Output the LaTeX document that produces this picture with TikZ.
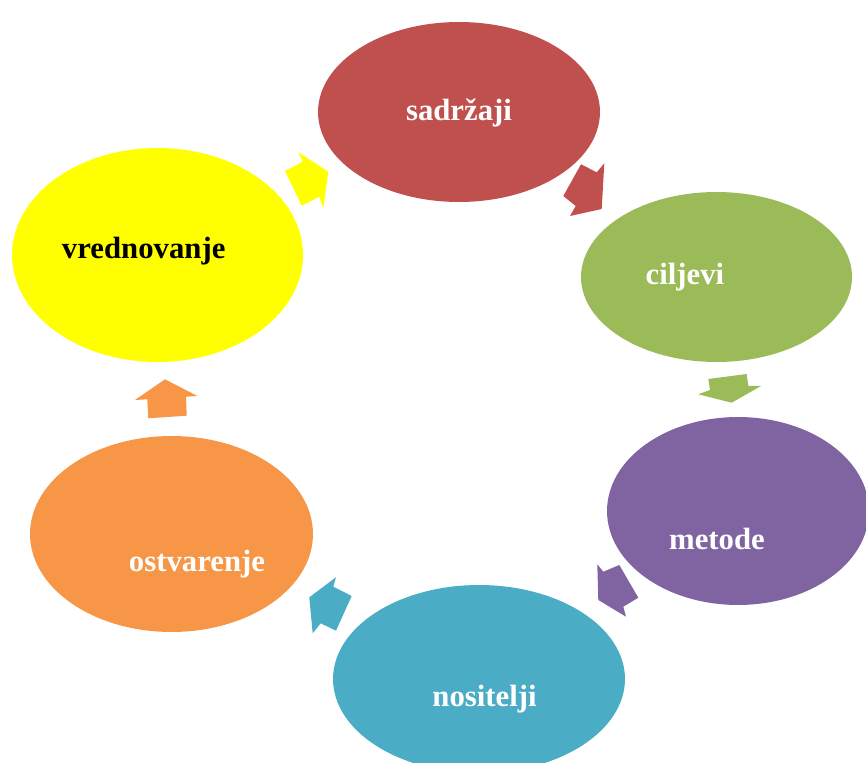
\documentclass[tikz,border=0pt]{standalone}
\usepackage{fontspec}
\setmainfont{Liberation Serif}
\usetikzlibrary{shapes.geometric}
\definecolor{cred}{HTML}{C0504D}
\definecolor{cgreen}{HTML}{9BBB59}
\definecolor{cpurple}{HTML}{8064A2}
\definecolor{cteal}{HTML}{4BACC6}
\definecolor{corange}{HTML}{F79646}
\definecolor{cyellow}{HTML}{FFFF00}
\tikzset{
  blob/.style={ellipse, inner sep=0pt, draw=none},
  lbl/.style={anchor=base, font=\bfseries\fontsize{17.5}{20}\selectfont, text=white, inner sep=0pt},
}
\begin{document}
\begin{tikzpicture}[x=0.02cm, y=-0.02cm]
\useasboundingbox (0,0) rectangle (866,763);
\clip (0,0) rectangle (866,763);
% ellipses
\node[blob, fill=cred, minimum width=5.64cm, minimum height=3.6cm] (sad) at (459,112) {};
\node[blob, fill=cgreen, minimum width=5.42cm, minimum height=3.4cm] (cil) at (716.5,277) {};
\node[blob, fill=cpurple, minimum width=5.24cm, minimum height=3.76cm] (met) at (738,511) {};
\node[blob, fill=cteal, minimum width=5.84cm, minimum height=3.76cm] (nos) at (479,679) {};
\node[blob, fill=corange, minimum width=5.66cm, minimum height=3.92cm] (ost) at (171.5,534) {};
\node[blob, fill=cyellow, minimum width=5.82cm, minimum height=4.28cm] (vre) at (157.5,255) {};
% labels
\node[lbl] (tsad) at (459,121) {sadržaji};
\node[lbl] (tcil) at (685,285) {ciljevi};
\node[lbl] (tmet) at (717,550) {metode};
\node[lbl] (tnos) at (484.5,706.7) {nositelji};
\node[lbl] (tost) at (197,571.7) {ostvarenje};
\node[lbl, text=black] (tvre) at (143.7,258.3) {vrednovanje};
% block arrows
\fill[cred] (581,164.3) -- (596.7,172.3) -- (604.3,163.3) -- (601.7,209) -- (570,216) -- (575.7,206) -- (563.3,196) -- cycle;
\fill[cgreen] (708.3,379) -- (746.7,374) -- (748.3,386) -- (761,386) -- (731.7,402.7) -- (698.3,394.3) -- (710,390) -- cycle;
\fill[cpurple] (619.3,565) -- (638.3,597.7) -- (623.3,606.7) -- (626,616.7) -- (598.3,600) -- (597.3,564.3) -- (603.3,571.7) -- cycle;
\fill[cteal] (351.7,596) -- (336,630.7) -- (320.7,623.3) -- (312.7,633.3) -- (309.3,597.3) -- (336,577.3) -- (333.3,586.7) -- cycle;
\fill[corange] (186.7,415.7) -- (148.3,418.3) -- (147.3,399.3) -- (135,400) -- (165,379.3) -- (197.3,396) -- (186,396.7) -- cycle;
\fill[cyellow] (285,171) -- (301.7,205.7) -- (319.3,196.7) -- (323.3,208.3) -- (328.3,171.7) -- (298.3,152.3) -- (302.7,161.7) -- cycle;
\end{tikzpicture}
\end{document}
